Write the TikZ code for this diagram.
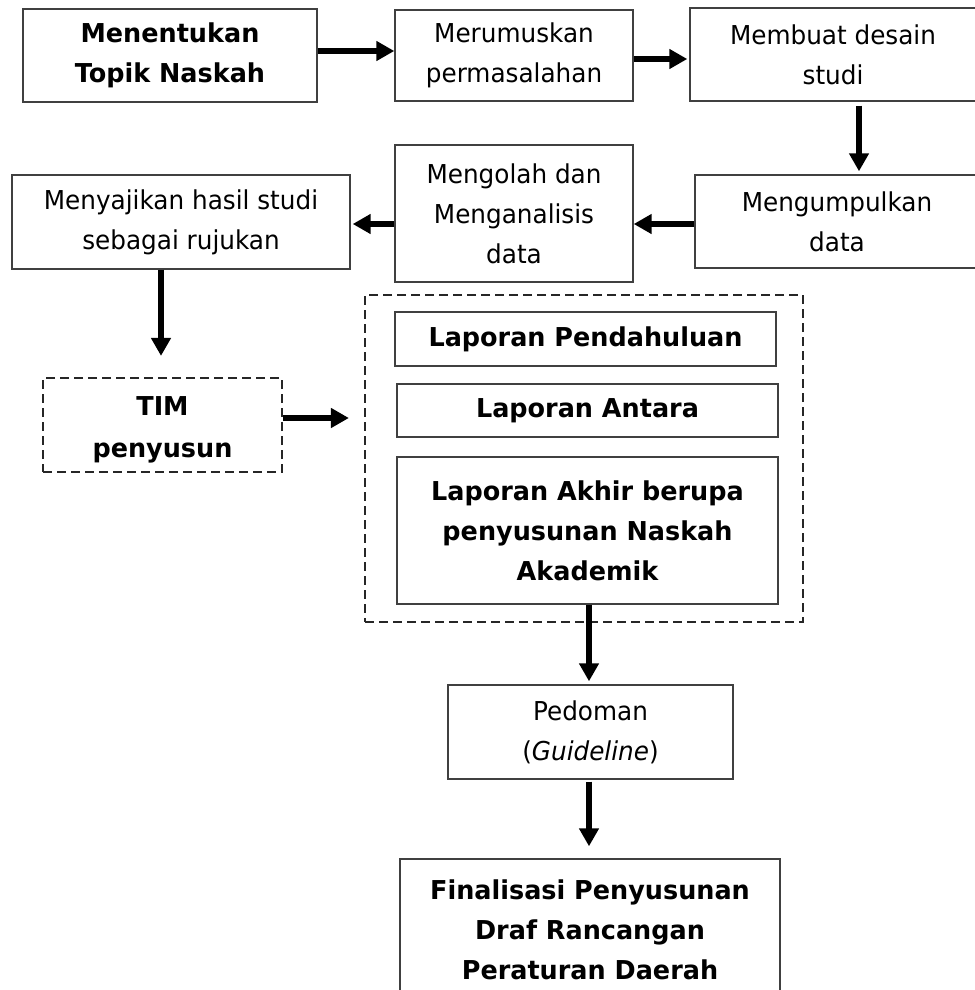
\documentclass[tikz,border=0pt]{standalone}
\usepackage{fontspec}
\setmainfont{DejaVu Sans}[FakeStretch=0.95,BoldFeatures={FakeStretch=0.98}]
\usetikzlibrary{arrows.meta}
\begin{document}
\begin{tikzpicture}[x=1pt,y=-1pt,
  box/.style={draw=black!75, line width=1.4pt, align=center, inner sep=0pt, font=\fontsize{26}{40}\selectfont},
  bbox/.style={box, font=\fontsize{26}{40}\selectfont\bfseries},
  dbox/.style={draw=black!85, line width=2.2pt, dash pattern=on 9pt off 5pt},
  arr/.style={line width=5.5pt, -{Triangle[length=18pt,width=19pt]}}]
\useasboundingbox (0,0) rectangle (974,990);
\node[bbox, minimum width=294pt, minimum height=93pt] (b1) at (170,55.5) {Menentukan\\Topik Naskah};
\node[box, minimum width=238pt, minimum height=91pt] (b2) at (514,55.5) {Merumuskan\\permasalahan};
\node[box, minimum width=286pt, minimum height=93pt] (b3) at (833,54.5) {Membuat desain\\studi};
\node[box, minimum width=284pt, minimum height=93pt] (b4) at (837,221.5) {Mengumpulkan\\data};
\node[box, minimum width=238pt, minimum height=137pt] (b5) at (514,213.5) {Mengolah dan\\Menganalisis\\data};
\node[box, minimum width=338pt, minimum height=94pt] (b6) at (181,222) {Menyajikan hasil studi\\sebagai rujukan};
\node[dbox, minimum width=239pt, minimum height=94pt] (tim) at (162.5,425) {};
\node[align=center, inner sep=0pt, font=\fontsize{26}{42}\selectfont\bfseries] (timtxt) at ([yshift=-5pt]tim.center) {TIM\\penyusun};
\node[dbox, minimum width=438pt, minimum height=327pt] (grp) at (584,458.5) {};
\node[bbox, minimum width=381pt, minimum height=54pt] (lp) at (585.5,339) {Laporan Pendahuluan};
\node[bbox, minimum width=381pt, minimum height=53pt] (la) at (587.5,410.5) {Laporan Antara};
\node[bbox, minimum width=381pt, minimum height=147pt] (lak) at (587.5,530.5) {Laporan Akhir berupa\\penyusunan Naskah\\Akademik};
\node[box, minimum width=285pt, minimum height=94pt] (ped) at (590.5,732) {Pedoman\\(\textit{Guideline})};
\node[bbox, minimum width=380pt, minimum height=142pt] (fin) at (590,930) {Finalisasi Penyusunan\\Draf Rancangan\\Peraturan Daerah};
\draw[arr] ([yshift=4.5pt]b1.east) -- ([yshift=4.5pt]b2.west);
\draw[arr, shorten >=2pt] ([yshift=-3.5pt]b2.east) -- ([yshift=-4.5pt]b3.west);
\draw[arr, shorten <=4pt, shorten >=3pt] ([xshift=26pt]b3.south) -- ([xshift=22pt]b4.north);
\draw[arr] ([yshift=-2.5pt]b4.west) -- ([yshift=-10.5pt]b5.east);
\draw[arr, shorten >=2pt] ([yshift=-10.5pt]b5.west) -- ([yshift=-2pt]b6.east);
\draw[arr, shorten >=21pt] ([xshift=-20pt]b6.south) -- ([xshift=-1.5pt]tim.north);
\draw[arr, shorten >=15pt] ([yshift=7pt]tim.east) -- ([yshift=40.5pt]grp.west);
\draw[arr, shorten >=3pt] ([xshift=1.5pt]lak.south) -- ([xshift=-1.5pt]ped.north);
\draw[arr, shorten <=2pt, shorten >=12pt] ([xshift=-1.5pt]ped.south) -- ([xshift=-1pt]fin.north);
\end{tikzpicture}
\end{document}
